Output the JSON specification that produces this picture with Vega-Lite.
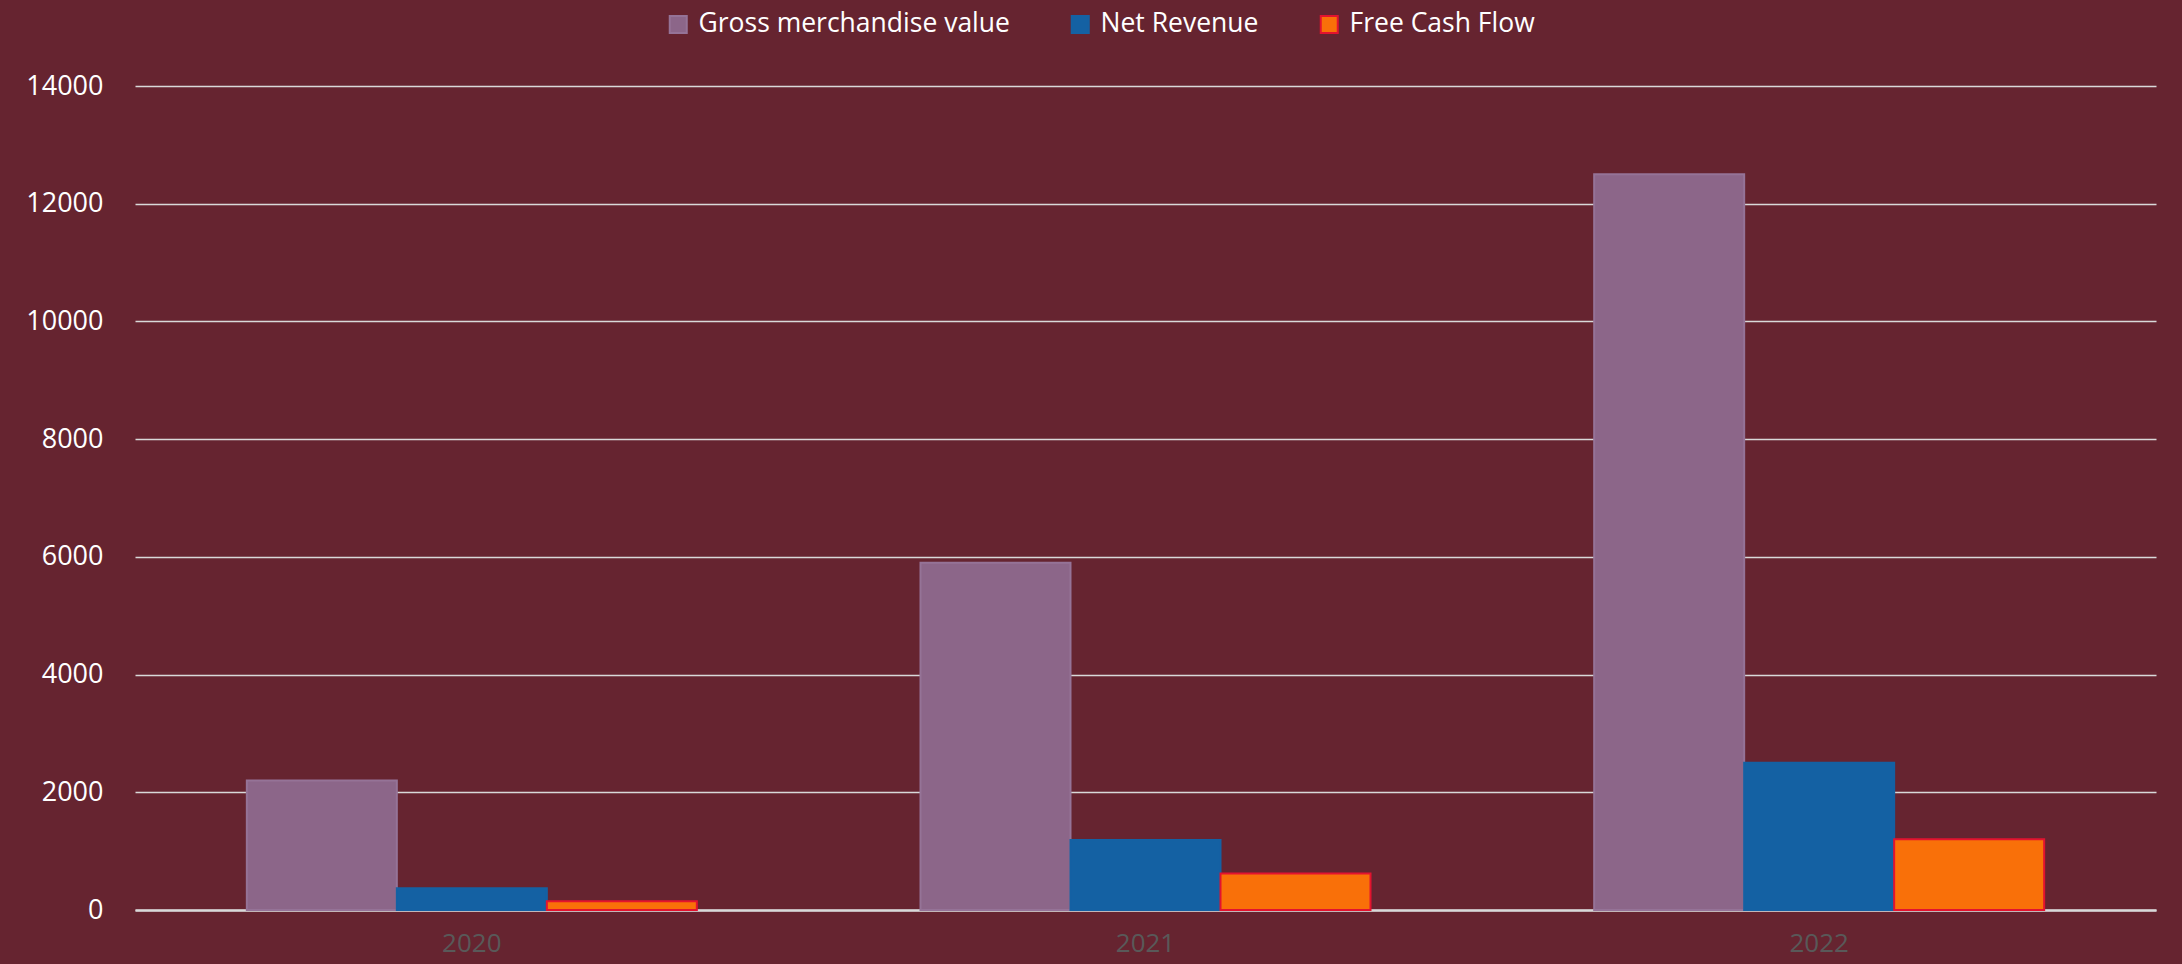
{
  "$schema": "https://vega.github.io/schema/vega-lite/v6.json",
  "width": 2021,
  "height": 824,
  "autosize": {"type": "none"},
  "padding": {"left": 135, "top": 86, "right": 26, "bottom": 54},
  "background": "#662430",
  "data": {
    "values": [
      {"year": "2020", "series": "Gross merchandise value", "value": 2200},
      {"year": "2020", "series": "Net Revenue", "value": 370},
      {"year": "2020", "series": "Free Cash Flow", "value": 150},
      {"year": "2021", "series": "Gross merchandise value", "value": 5900},
      {"year": "2021", "series": "Net Revenue", "value": 1190},
      {"year": "2021", "series": "Free Cash Flow", "value": 620},
      {"year": "2022", "series": "Gross merchandise value", "value": 12500},
      {"year": "2022", "series": "Net Revenue", "value": 2500},
      {"year": "2022", "series": "Free Cash Flow", "value": 1200}
    ]
  },
  "mark": {"type": "bar", "strokeWidth": 2},
  "encoding": {
    "x": {
      "field": "year", "type": "nominal",
      "scale": {"paddingInner": 0.332, "paddingOuter": 0.166},
      "axis": {"title": null, "labelAngle": 0, "ticks": false, "domain": true, "domainColor": "#d9d9d9", "domainWidth": 2.5, "labelColor": "#595959", "labelFontSize": 26, "labelFont": "Open Sans", "labelPadding": 20, "grid": false}
    },
    "xOffset": {
      "field": "series", "type": "nominal",
      "sort": ["Gross merchandise value", "Net Revenue", "Free Cash Flow"],
      "scale": {"paddingInner": 0, "paddingOuter": 0}
    },
    "y": {
      "field": "value", "type": "quantitative",
      "scale": {"domain": [0, 14000], "nice": false},
      "axis": {"title": null, "values": [0, 2000, 4000, 6000, 8000, 10000, 12000, 14000], "format": "d", "ticks": false, "domain": false, "grid": true, "gridColor": "#d9d9d9", "gridWidth": 1.3, "labelColor": "#ffffff", "labelFontSize": 27, "labelFont": "Open Sans", "labelPadding": 32}
    },
    "fill": {
      "field": "series", "type": "nominal",
      "sort": ["Gross merchandise value", "Net Revenue", "Free Cash Flow"],
      "scale": {"domain": ["Gross merchandise value", "Net Revenue", "Free Cash Flow"], "range": ["#8c6689", "#1461a3", "#f97009"]},
      "legend": {"title": null, "orient": "none", "direction": "horizontal", "legendX": 530, "legendY": -75, "symbolType": "square", "symbolSize": 289, "labelColor": "#ffffff", "labelFontSize": 26.5, "labelFont": "Open Sans", "labelOffset": 7, "columnPadding": 57, "labelLimit": 600, "symbolStrokeWidth": 2}
    },
    "stroke": {
      "field": "series", "type": "nominal",
      "sort": ["Gross merchandise value", "Net Revenue", "Free Cash Flow"],
      "scale": {"domain": ["Gross merchandise value", "Net Revenue", "Free Cash Flow"], "range": ["#957397", "#1461a3", "#e3132f"]},
      "legend": {"title": null, "orient": "none", "direction": "horizontal", "legendX": 530, "legendY": -75, "symbolType": "square", "symbolSize": 289, "labelColor": "#ffffff", "labelFontSize": 26.5, "labelFont": "Open Sans", "labelOffset": 7, "columnPadding": 57, "labelLimit": 600, "symbolStrokeWidth": 2}
    }
  },
  "config": {"view": {"stroke": null}}
}
